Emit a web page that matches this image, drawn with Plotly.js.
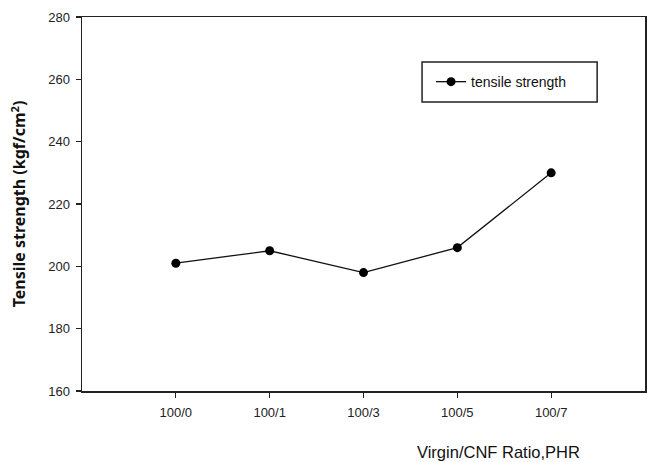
<!DOCTYPE html>
<html>
<head>
<meta charset="utf-8">
<script src="https://cdn.plot.ly/plotly-3.0.1.min.js"></script>
<style>html,body{margin:0;padding:0;background:#fff;}#chart{width:647px;height:462px;}</style>
</head>
<body>
<div id="chart"></div>
<script>
const categories = ["100/0", "100/1", "100/3", "100/5", "100/7"];
const tensileStrength = [201, 205, 198, 206, 230];
const seriesName = "tensile strength";
const yTicks = [160, 180, 200, 220, 240, 260, 280];

const trace = {
  x: categories.map((_, i) => i),
  y: tensileStrength,
  name: seriesName,
  type: "scatter",
  mode: "lines+markers",
  line: {color: "#111", width: 1.3},
  marker: {color: "#000", size: 9, symbol: "circle"}
};

const layout = {
  width: 647, height: 462,
  margin: {l: 82, r: 2, t: 17, b: 71},
  paper_bgcolor: "#fff", plot_bgcolor: "#fff",
  showlegend: true,
  legend: {
    x: 0.62, y: 0.826, xanchor: "left", yanchor: "middle",
    borderwidth: 0, bgcolor: "rgba(0,0,0,0)",
    font: {family: "Liberation Sans, Arial, sans-serif", size: 14, color: "#111"}
  },
  shapes: [{
    type: "rect", xref: "paper", yref: "paper",
    x0: 0.604, x1: 0.915, y0: 0.773, y1: 0.880,
    line: {color: "#222", width: 1.5}, fillcolor: "rgba(0,0,0,0)"
  }],
  xaxis: {
    range: [-1, 5],
    tickmode: "array",
    tickvals: categories.map((_, i) => i),
    ticktext: categories,
    ticks: "outside", ticklen: 5, tickwidth: 1.3, tickcolor: "#222",
    ticklabelstandoff: 4,
    showline: true, linecolor: "#222", linewidth: 1.5, mirror: true,
    showgrid: false, zeroline: false,
    tickfont: {family: "Liberation Sans, Arial, sans-serif", size: 13, color: "#222"}
  },
  yaxis: {
    range: [160, 280],
    tickmode: "array", tickvals: yTicks,
    ticks: "outside", ticklen: 5, tickwidth: 1.3, tickcolor: "#222",
    ticklabelstandoff: 3,
    showline: true, linecolor: "#222", linewidth: 1.5, mirror: true,
    showgrid: false, zeroline: false,
    tickfont: {family: "Liberation Sans, Arial, sans-serif", size: 13, color: "#222"},
    title: {text: "<b>Tensile strength (kgf/cm<sup>2</sup>)</b>", standoff: 18,
            font: {family: "Noto Sans, sans-serif", size: 16, color: "#111"}}
  },
  annotations: [{
    text: "Virgin/CNF Ratio,PHR",
    xref: "paper", yref: "paper", x: 0.74, y: -0.163, xanchor: "center", yanchor: "middle",
    showarrow: false,
    font: {family: "Liberation Sans, Arial, sans-serif", size: 16.5, color: "#111"}
  }]
};

Plotly.newPlot("chart", [trace], layout, {displayModeBar: false, staticPlot: true});
</script>
</body>
</html>
